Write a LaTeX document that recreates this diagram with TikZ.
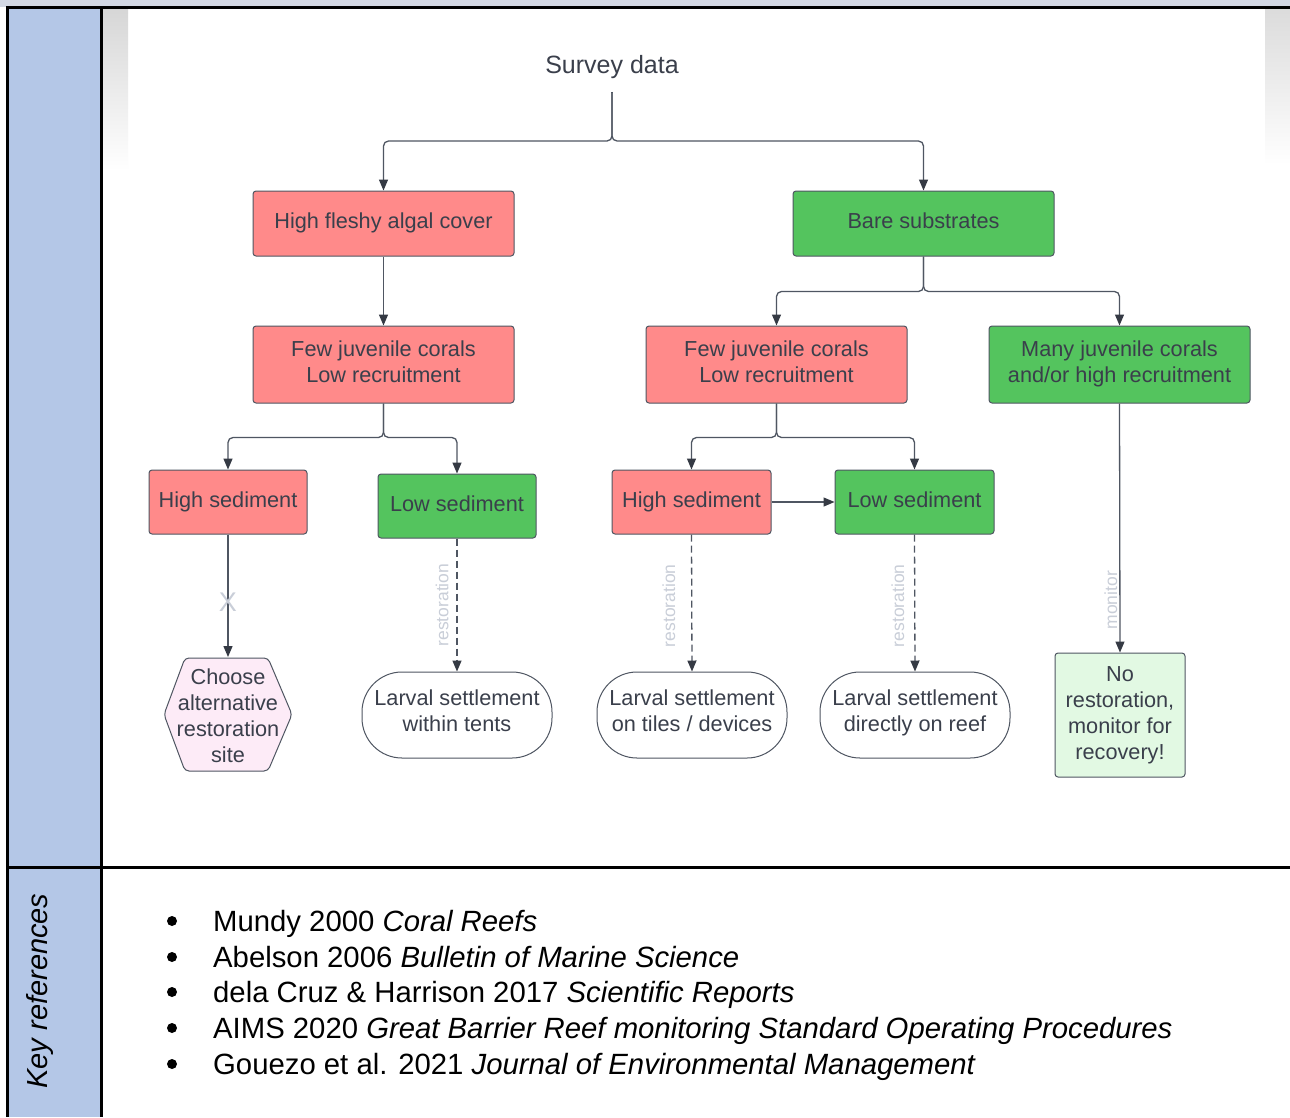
\documentclass[tikz,border=0pt]{standalone}
\usepackage{fontspec}
\setmainfont{Liberation Sans}
\usetikzlibrary{arrows.meta}
\definecolor{salmon}{HTML}{FF8A8A}
\definecolor{grn}{HTML}{54C45E}
\definecolor{pinkfill}{HTML}{FDEBF7}
\definecolor{lgreen}{HTML}{E2F9E3}
\definecolor{keyblue}{HTML}{B4C7E7}
\definecolor{txt}{HTML}{3A3F4B}
\definecolor{edgecol}{HTML}{4F5662}
\definecolor{tipcol}{HTML}{353A44}
\definecolor{lblgray}{HTML}{C9CED8}
\definecolor{topgray}{HTML}{D3D8E4}
\tikzset{
  nodefont/.style={font=\fontsize{21.7}{26}\selectfont},
  lift/.style={execute at end node={\rule[-#1]{0pt}{#1}}},
  box/.style={draw=edgecol, line width=1pt, rounded corners=3pt, text=txt, nodefont,
    align=center, inner sep=0pt, minimum width=261pt, minimum height=65pt},
  redbox/.style={box, fill=salmon, lift=5.5pt},
  greenbox/.style={box, fill=grn, lift=5.5pt},
  sedbox/.style={box, lift=5.5pt, minimum width=158pt, minimum height=64pt},
  stadium/.style={draw=edgecol, line width=1pt, rounded corners=40pt, fill=white, text=txt,
    nodefont, align=center, inner sep=0pt, minimum width=190pt, minimum height=86pt, lift=8pt},
  arr/.style={draw=edgecol, line width=1.3pt, rounded corners=5pt,
    -{Triangle[length=11pt,width=9pt,color=tipcol]}},
  dashedarr/.style={arr, dash pattern=on 7pt off 4pt},
  elab/.style={text=lblgray, font=\fontsize{17.5}{20}\selectfont, inner sep=0pt},
  framel/.style={line width=3pt, black},
  refline/.style={anchor=base west, font=\fontsize{29.3}{34}\selectfont, text=black, inner sep=0pt},
  bullet/.style={circle, fill=black, inner sep=0pt, minimum size=10pt}
}
\begin{document}
\begin{tikzpicture}[x=1pt,y=-1pt]
\useasboundingbox (0,0) rectangle (1290,1117);
\fill[white] (0,0) rectangle (1290,1117);
% background gradients
\fill[topgray] (0,0) rectangle (1290,7);
\shade[top color=black!16, bottom color=white] (102,8) rectangle (128,170);
\shade[top color=black!14, bottom color=white] (1265,8) rectangle (1290,165);
% left column
\fill[keyblue] (7,7) rectangle (101,1117);
% frame
\draw[framel] (1290,7) -- (7,7) -- (7,1117);
\draw[framel] (101,7) -- (101,1117);
\draw[framel] (7,867) -- (1290,867);

% nodes
\node[text=txt, font=\fontsize{25}{30}\selectfont, inner sep=0pt] (survey) at (612,67) {Survey data};
\coordinate (trunk) at (612,92);
\node[redbox] (algal) at (383.5,223.5) {High fleshy algal cover};
\node[greenbox] (bare) at (923.5,223.5) {Bare substrates};
\node[redbox, minimum height=77pt] (fewL) at (383.5,364.5) {Few juvenile corals\\Low recruitment};
\node[redbox, minimum height=77pt] (fewM) at (776.5,364.5) {Few juvenile corals\\Low recruitment};
\node[greenbox, minimum height=77pt] (many) at (1119.5,364.5) {Many juvenile corals\\and/or high recruitment};
\node[sedbox, fill=salmon] (hsL) at (228,502) {High sediment};
\node[sedbox, fill=grn] (lsL) at (457,506) {Low sediment};
\node[sedbox, fill=salmon, minimum width=159pt] (hsM) at (691.5,502) {High sediment};
\node[sedbox, fill=grn, minimum width=159pt] (lsM) at (914.5,502) {Low sediment};
% hexagon
\draw[edgecol, line width=1pt, fill=pinkfill, rounded corners=4pt]
  (164,714.5) -- (185,658) -- (268,658) -- (292,714.5) -- (268,771) -- (185,771) -- cycle;
\node[text=txt, nodefont, align=center, inner sep=0pt, minimum width=128pt, minimum height=113pt] (hex) at (228,715.5)
  {Choose\\alternative\\restoration\\site};
\node[stadium] (tents) at (457,715) {Larval settlement\\within tents};
\node[stadium] (tiles) at (692,715) {Larval settlement\\on tiles / devices};
\node[stadium] (reef) at (915,715) {Larval settlement\\directly on reef};
\node[box, fill=lgreen, minimum width=130pt, minimum height=124pt,
  execute at begin node={\rule{0pt}{19.7pt}}] (norest) at (1120,715)
  {No\\restoration,\\monitor for\\recovery!};

% connectors
\draw[edgecol, line width=1.3pt] ([yshift=-13pt]survey.south) -- (trunk);
\draw[arr] (trunk) -- ++(0,49) -| (algal.north);
\draw[arr] (trunk) -- ++(0,49) -| (bare.north);
\draw[arr] (algal) -- (fewL);
\draw[arr] (bare.south) -- ++(0,35) -| (fewM.north);
\draw[arr] (bare.south) -- ++(0,35) -| (many.north);
\draw[arr] (fewL.south) -- ++(0,34) -| (hsL.north);
\draw[arr] (fewL.south) -- ++(0,34) -| (lsL.north);
\draw[arr] (fewM.south) -- ++(0,34) -| (hsM.north);
\draw[arr] (fewM.south) -- ++(0,34) -| (lsM.north);
\draw[arr] (hsM) -- (lsM);
\draw[arr] (hsL.south) -- node[pos=.55, text=lblgray, font=\fontsize{27}{27}\selectfont, inner sep=0pt] {X} (hsL.south |- 0,657);
\draw[dashedarr] (lsL.south) -- node[midway, elab, xshift=-15pt, rotate=90] {restoration} (tents.north);
\draw[dashedarr] (hsM.south) -- node[pos=.52, elab, xshift=-23pt, rotate=90] {restoration} (tiles.north);
\draw[dashedarr] (lsM.south) -- node[pos=.52, elab, xshift=-17pt, rotate=90] {restoration} (reef.north);
\draw[arr] (many.south) -- node[pos=.79, elab, xshift=-9pt, rotate=90] {monitor} (norest.north);

% key references
\node[rotate=90, font=\fontsize{29}{34}\selectfont\itshape, text=black, inner sep=0pt] (keyref) at (40,991) {Key references};
\node[bullet] (b1) at (172,921) {};
\node[bullet] (b2) at (172,957) {};
\node[bullet] (b3) at (172,992) {};
\node[bullet] (b4) at (172,1028) {};
\node[bullet] (b5) at (172,1064) {};
\node[refline] (r1) at (213,931) {Mundy 2000 \textit{Coral Reefs}};
\node[refline] (r2) at (213,967) {Abelson 2006 \textit{Bulletin of Marine Science}};
\node[refline] (r3) at (213,1002) {dela Cruz \& Harrison 2017 \textit{Scientific Reports}};
\node[refline] (r4) at (213,1038) {AIMS 2020 \textit{Great Barrier Reef monitoring Standard Operating Procedures}};
\node[refline] (r5) at (213,1074) {Gouezo et al. 2021 \textit{Journal of Environmental Management}};
\end{tikzpicture}
\end{document}
